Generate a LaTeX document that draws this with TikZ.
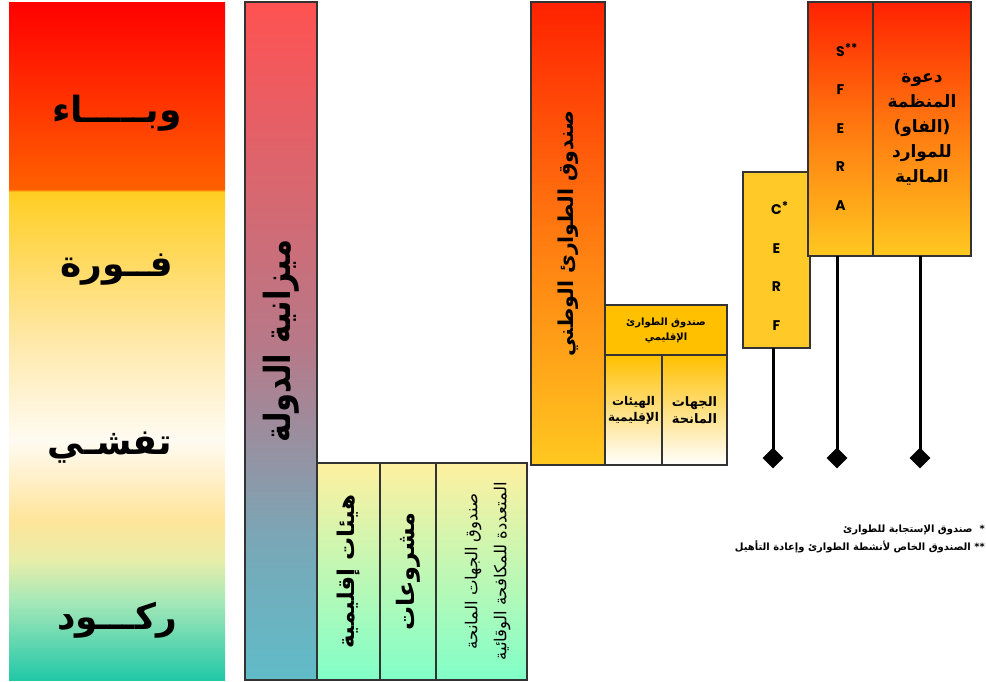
\documentclass[tikz,border=0pt]{standalone}
\usepackage{fontspec}
\usepackage{graphicx}
\usetikzlibrary{shapes.geometric}
\TeXXeTstate=1
\newfontfamily\arabicfont[Script=Arabic]{DejaVu Sans}
\newfontfamily\latinfont{Poppins}
\newcommand\myfs[2]{\fontsize{#1}{#2}\selectfont}
\definecolor{ph1}{HTML}{FF0000}
\definecolor{ph2}{HTML}{FF6000}
\definecolor{ph3}{HTML}{FFCE22}
\definecolor{ph4}{HTML}{FFE8A8}
\definecolor{ph5}{HTML}{FFFBF2}
\definecolor{ph6}{HTML}{FFE49A}
\definecolor{ph7}{HTML}{E8EEA8}
\definecolor{ph8}{HTML}{A8E8B8}
\definecolor{ph9}{HTML}{22C8A8}
\definecolor{bu1}{HTML}{FF5252}
\definecolor{bu2}{HTML}{B87888}
\definecolor{bu3}{HTML}{78A8B8}
\definecolor{bu4}{HTML}{60BCC8}
\definecolor{hot}{HTML}{FF2200}
\definecolor{mid}{HTML}{FF7A10}
\definecolor{warm}{HTML}{FFC820}
\definecolor{gold}{HTML}{FFC000}
\definecolor{cerfc}{HTML}{FFCA28}
\definecolor{paley}{HTML}{FFF0A0}
\definecolor{paleg}{HTML}{80FFC8}
\definecolor{edge}{HTML}{333333}
\pgfdeclareverticalshading{phases}{100bp}{color(0bp)=(ph9); color(25bp)=(ph9); color(30.9bp)=(ph8); color(33.9bp)=(ph7); color(36.8bp)=(ph6); color(42.7bp)=(ph5); color(50.1bp)=(ph4); color(61.0bp)=(ph3); color(61.2bp)=(ph2); color(75bp)=(ph1); color(100bp)=(ph1)}
\pgfdeclareverticalshading{budget}{100bp}{color(0bp)=(bu4); color(25bp)=(bu4); color(35bp)=(bu3); color(50bp)=(bu2); color(75bp)=(bu1); color(100bp)=(bu1)}
\tikzset{
  box/.style={draw=edge, line width=1.2pt, inner sep=0pt, outer sep=0pt, anchor=north west},
  hotbox/.style={box, top color=hot, bottom color=warm, middle color=mid},
  greenbox/.style={box, top color=paley, bottom color=paleg},
  subbox/.style={box, top color=gold, bottom color=white},
  phase/.style={font=\arabicfont\bfseries\myfs{36}{40}, inner sep=0pt},
  vtext/.style={rotate=90, align=center, inner sep=0pt},
  ar/.style={font=\arabicfont\bfseries, align=center, inner sep=0pt},
  letters/.style={font=\latinfont\bfseries\myfs{14}{38.5}, align=center, inner sep=0pt},
  stem/.style={line width=3pt, draw=black},
  dia/.style={diamond, fill=black, minimum size=21pt, inner sep=0pt}
}
\begin{document}
\begin{tikzpicture}[x=1pt, y=-1pt]
\useasboundingbox (0,0) rectangle (986,681);
% phases column
\node[box, draw=none, shading=phases, minimum width=216, minimum height=678] (phases) at (9,2) {};
\node[phase] (p1) at (117,113) {\beginR وبـــــاء\endR};
\node[phase] (p2) at (117,270) {\beginR فــورة\endR};
\node[phase] (p3) at (110,448) {\beginR تفشـي\endR};
\node[phase] (p4) at (117,620) {\beginR ركـــود\endR};
% state budget
\node[box, shading=budget, minimum width=72, minimum height=678] (budget) at (245,2) {};
\node[vtext, font=\arabicfont\bfseries\myfs{36}{40}] (budgett) at (budget.center) {\scalebox{0.85}[1]{\beginR ميزانية الدولة\endR}};
% lower green boxes
\node[greenbox, minimum width=63, minimum height=217] (reg) at (317,463) {};
\node[greenbox, minimum width=56, minimum height=217] (proj) at (380,463) {};
\node[greenbox, minimum width=91, minimum height=217] (donor) at (436,463) {};
\node[vtext, font=\arabicfont\bfseries\myfs{23}{26}] (regt) at (reg.center) {\beginR هيئات إقليمية\endR};
\node[vtext, font=\arabicfont\bfseries\myfs{24}{26}] (projt) at (proj.center) {\beginR مشروعات\endR};
\node[vtext, font=\arabicfont\myfs{16.5}{29}] (donort) at ([xshift=6pt]donor.center) {\beginR صندوق الجهات المانحة\endR\\\beginR المتعددة للمكافحة الوقائية\endR};
% national emergency fund
\node[hotbox, minimum width=74, minimum height=463] (nat) at (531,2) {};
\node[vtext, font=\arabicfont\bfseries\myfs{20.5}{24}] (natt) at (nat.center) {\beginR صندوق الطوارئ الوطني\endR};
% regional emergency fund
\node[box, fill=gold, minimum width=122, minimum height=50] (rfund) at (605,305) {};
\node[ar, font=\arabicfont\bfseries\myfs{10}{15}] (rfundt) at (rfund.center) {\beginR صندوق الطوارئ\endR\\\beginR الإقليمي\endR};
\node[subbox, minimum width=57, minimum height=110] (rorg) at (605,355) {};
\node[subbox, minimum width=65, minimum height=110] (rdon) at (662,355) {};
\node[ar, font=\arabicfont\bfseries\myfs{12}{16}] (rorgt) at (rorg.center) {\beginR الهيئات\endR\\\beginR الإقليمية\endR};
\node[ar, font=\arabicfont\bfseries\myfs{13}{17}] (rdont) at (rdon.center) {\beginR الجهات\endR\\\beginR المانحة\endR};
% CERF, SFERA, FAO
\node[box, fill=cerfc, minimum width=67, minimum height=176] (cerf) at (743,172) {};
\node[hotbox, minimum width=65, minimum height=254] (sfera) at (808,2) {};
\node[hotbox, minimum width=98, minimum height=254] (fao) at (873,2) {};
\node[letters] (cerft) at ([yshift=-6pt]cerf.center) {C\rlap{\raisebox{4pt}{\myfs{12}{12}*}}\\E\\R\\F};
\node[letters] (sferat) at ([yshift=2pt]sfera.center) {S\rlap{\raisebox{4pt}{\myfs{12}{12}**}}\\F\\E\\R\\A};
\node[ar, font=\arabicfont\bfseries\myfs{17}{25}] (faot) at (fao.center) {\beginR دعوة\endR\\\beginR المنظمة\endR\\\beginR (الفاو)\endR\\\beginR للموارد\endR\\\beginR المالية\endR};
% stems and diamonds
\node[dia] (d1) at (773,458) {};
\node[dia] (d2) at (837,458) {};
\node[dia] (d3) at (920,458) {};
\draw[stem] (d1 |- cerf.south) -- (d1.center);
\draw[stem] (d2 |- sfera.south) -- (d2.center);
\draw[stem] (d3 |- fao.south) -- (d3.center);
% footnotes
\node[font=\arabicfont\bfseries\myfs{10}{18}, align=right, inner sep=0pt, anchor=north east] (notes) at (985,525) {\beginR *~~صندوق الإستجابة للطوارئ\endR\\\beginR ** الصندوق الخاص لأنشطة الطوارئ وإعادة التأهيل\endR};
\end{tikzpicture}
\end{document}
